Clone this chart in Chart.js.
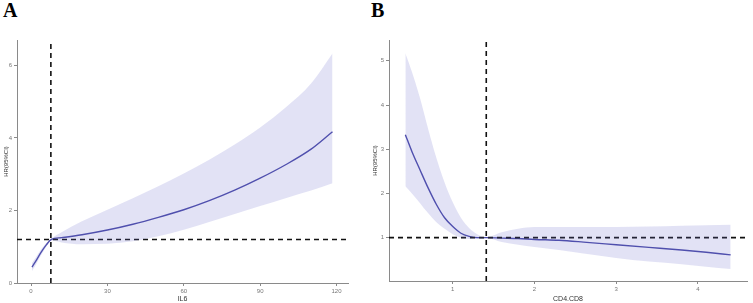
<!DOCTYPE html>
<html>
<head>
<meta charset="utf-8">
<script src="https://cdn.jsdelivr.net/npm/chart.js@4.4.1/dist/chart.umd.min.js"></script>
<style>
  html, body { margin: 0; padding: 0; background: #fff; }
  body { width: 753px; height: 303px; position: relative; overflow: hidden; }
  canvas { position: absolute; top: 0; }
  #chartA { left: 0; }
  #chartB { left: 360px; }
  .tag { position: absolute; top: -1px; font: bold 20px "Liberation Serif", "DejaVu Serif", serif; color: #000; }
</style>
</head>
<body>
<div class="tag" style="left:3px">A</div>
<div class="tag" style="left:371px">B</div>
<canvas id="chartA" width="360" height="303"></canvas>
<canvas id="chartB" width="393" height="303"></canvas>
<script>
// panel A: IL6
const il6X = [0.4, 2, 4, 6, 8, 12, 20, 30, 40, 50, 60, 70, 80, 90, 100, 110, 118.4];
const il6Hr = [0.44, 0.62, 0.85, 1.05, 1.2, 1.25, 1.33, 1.46, 1.62, 1.81, 2.02, 2.27, 2.56, 2.89, 3.26, 3.69, 4.17];
const il6Upper = [0.55, 0.72, 0.93, 1.1, 1.23, 1.4, 1.7, 2.02, 2.34, 2.67, 3.02, 3.4, 3.82, 4.29, 4.84, 5.5, 6.33];
const il6Lower = [0.33, 0.52, 0.77, 1.0, 1.17, 1.12, 1.07, 1.08, 1.15, 1.29, 1.47, 1.68, 1.9, 2.12, 2.34, 2.55, 2.75];
const il6Cut = 7.8;
const il6Ref = 1.2;
const il6XTicks = [0, 30, 60, 90, 120];
const il6YTicks = [0, 2, 4, 6];

// panel B: CD4/CD8
const cdX = [0.42, 0.5, 0.6, 0.7, 0.8, 0.9, 1.0, 1.1, 1.2, 1.3, 1.41, 1.6, 1.8, 2.0, 2.3, 2.6, 3.0, 3.4, 3.8, 4.1, 4.4];
const cdHr = [3.33, 2.95, 2.53, 2.12, 1.75, 1.45, 1.25, 1.1, 1.03, 1.0, 1.0, 0.99, 0.98, 0.96, 0.94, 0.9, 0.84, 0.78, 0.72, 0.67, 0.61];
const cdUpper = [5.17, 4.75, 4.15, 3.45, 2.8, 2.25, 1.8, 1.45, 1.22, 1.08, 1.01, 1.12, 1.2, 1.24, 1.24, 1.24, 1.24, 1.25, 1.27, 1.28, 1.29];
const cdLower = [2.16, 2.0, 1.78, 1.55, 1.35, 1.2, 1.08, 1.0, 0.97, 0.97, 0.99, 0.9, 0.84, 0.79, 0.72, 0.64, 0.54, 0.46, 0.4, 0.34, 0.29];
const cdCut = 1.41;
const cdRef = 1.0;
const cdXTicks = [1, 2, 3, 4];
const cdYTicks = [1, 2, 3, 4, 5];

const LINE = "#4848a6";
const BAND = "rgba(110, 110, 205, 0.2)";
const AXIS = "#8a8a8a";
const FONT = "'Liberation Sans', Arial, sans-serif";

function pts(xs, ys) {
  return xs.map((x, i) => ({ x, y: ys[i] }));
}

function makeSpline(canvas, cfg) {
  const { xs, hr, up, lo, cut, ref, xTicks, yTicks, xRange, yRange, xTitle, pad, yWidth, xHeight } = cfg;

  const scaleCommon = {
    type: "linear",
    grid: { display: true, drawOnChartArea: false, drawTicks: true, tickLength: 3, color: AXIS, lineWidth: 1 },
    border: { display: true, color: AXIS, width: 1 },
    ticks: { color: "#777", font: { family: FONT, size: 6 }, padding: 2, autoSkip: false, maxRotation: 0 },
  };

  return new Chart(canvas.getContext("2d"), {
    type: "line",
    data: {
      datasets: [
        { data: pts(xs, up), borderWidth: 0, pointRadius: 0, backgroundColor: BAND, fill: "+1", cubicInterpolationMode: "monotone" },
        { data: pts(xs, lo), borderWidth: 0, pointRadius: 0, fill: false, cubicInterpolationMode: "monotone" },
        { data: [{ x: cut, y: yRange[0] }, { x: cut, y: yRange[1] }], borderColor: "#111", borderWidth: 1.6, borderDash: [5, 4], pointRadius: 0, fill: false },
        { data: [{ x: xRange[0], y: ref }, { x: xRange[1], y: ref }], borderColor: "#111", borderWidth: 1.6, borderDash: [5, 4], pointRadius: 0, fill: false },
        { data: pts(xs, hr), borderColor: LINE, borderWidth: 1.4, pointRadius: 0, fill: false, cubicInterpolationMode: "monotone" },
      ],
    },
    options: {
      responsive: false,
      animation: false,
      devicePixelRatio: 1,
      layout: { padding: pad },
      plugins: { legend: { display: false }, tooltip: { enabled: false } },
      scales: {
        x: {
          ...scaleCommon,
          min: xRange[0],
          max: xRange[1],
          afterBuildTicks: (s) => { s.ticks = xTicks.map((v) => ({ value: v })); },
          afterFit: (s) => { s.height = xHeight; },
          title: { display: true, text: xTitle, color: "#333", font: { family: FONT, size: 7 }, padding: { top: 0, bottom: 0 } },
        },
        y: {
          ...scaleCommon,
          min: yRange[0],
          max: yRange[1],
          afterBuildTicks: (s) => { s.ticks = yTicks.map((v) => ({ value: v })); },
          afterFit: (s) => { s.width = yWidth; },
          title: { display: true, text: "HR(95%CI)", color: "#333", font: { family: FONT, size: 6 }, padding: { top: 0, bottom: 0 } },
        },
      },
    },
  });
}

makeSpline(document.getElementById("chartA"), {
  xs: il6X, hr: il6Hr, up: il6Upper, lo: il6Lower, cut: il6Cut, ref: il6Ref,
  xTicks: il6XTicks, yTicks: il6YTicks,
  xRange: [-5.5, 124.5], yRange: [0, 6.7],
  xTitle: "IL6",
  pad: { top: 40, right: 12, left: 3, bottom: 0 },
  yWidth: 14, xHeight: 20,
});

makeSpline(document.getElementById("chartB"), {
  xs: cdX, hr: cdHr, up: cdUpper, lo: cdLower, cut: cdCut, ref: cdRef,
  xTicks: cdXTicks, yTicks: cdYTicks,
  xRange: [0.22, 4.6], yRange: [0.02, 5.47],
  xTitle: "CD4.CD8",
  pad: { top: 40, right: 6, left: 12, bottom: 0 },
  yWidth: 17, xHeight: 22,
});
</script>
</body>
</html>
